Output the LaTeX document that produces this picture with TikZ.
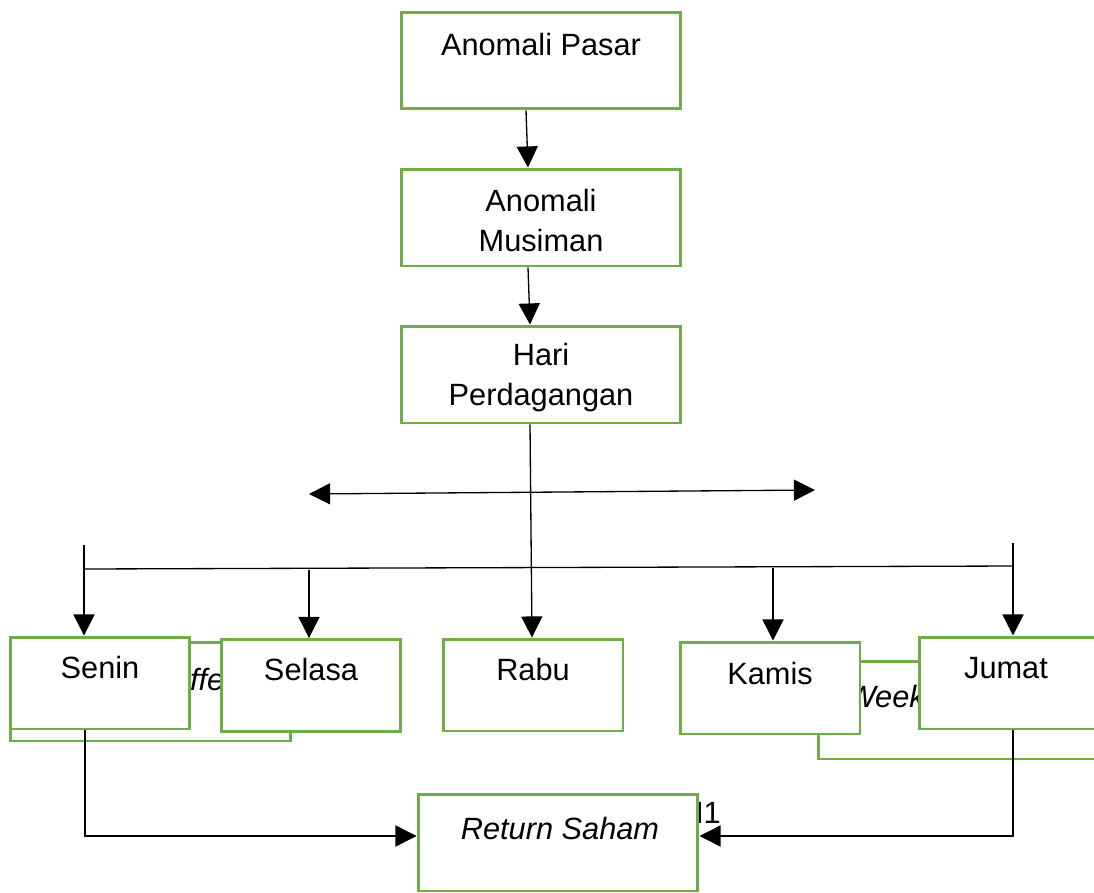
\documentclass[tikz,border=0pt]{standalone}
\usepackage{fontspec}
\setmainfont{Liberation Sans}
\usetikzlibrary{arrows.meta,calc}
\definecolor{boxgreen}{HTML}{70AD47}
\tikzset{
  gbox/.style={draw=boxgreen, line width=1.7pt, fill=white, inner sep=0pt},
  bigbox/.style={gbox, minimum width=5.6cm, minimum height=1.94cm},
  daybox/.style={gbox, minimum width=3.6cm, minimum height=1.84cm},
  lbl/.style={font=\fontsize{17.5}{23.2}\selectfont, align=center, inner sep=0pt},
  conn/.style={line width=0.75pt, black},
  arr/.style={conn, -{Triangle[length=12pt,width=12pt]}},
}
\begin{document}
\begin{tikzpicture}[x=0.02cm,y=-0.02cm]
\useasboundingbox (0,0) rectangle (1094,892);
% top chain
\node[bigbox] (pasar) at (541,60.5) {};
\node[lbl] (tpasar) at (541,45) {Anomali Pasar};
\node[bigbox] (musiman) at (541,217.5) {};
\node[lbl] (tmusiman) at (541,220.5) {Anomali\\Musiman};
\node[bigbox] (hari) at (541,374.5) {};
\node[lbl] (thari) at (541,377.5) {Hari\\Perdagangan};
\draw[arr] ($(pasar.south)+(-15,0)$) -- ($(musiman.north)+(-13,0)$);
\draw[arr] ($(musiman.south)+(-13,0)$) -- ($(hari.north)+(-11,0)$);
% double arrow
\coordinate (dl) at (309,494);
\coordinate (dr) at (815,490);
\draw[conn, {Triangle[length=12pt,width=12pt]}-{Triangle[length=12pt,width=12pt]}] (dl) -- (dr);
% hidden boxes behind
\node[gbox, minimum width=5.62cm, minimum height=1.98cm] (monday) at (150.5,691.5) {};
\node[lbl, font=\fontsize{17.5}{23.2}\selectfont\itshape] (tmonday) at (150,683) {Monday Effect};
\node[gbox, minimum width=5.6cm, minimum height=1.96cm] (weekend) at (958,710) {};
\node[lbl, font=\fontsize{17.5}{23.2}\selectfont\itshape] (tweekend) at (955,697) {Weekend Effect};
\node[lbl] (h1) at (701,813) {H1};
% day boxes
\node[daybox] (senin) at (100,683) {};
\node[lbl] (tsenin) at (100,668) {Senin};
\node[daybox] (selasa) at (311,685.5) {};
\node[lbl] (tselasa) at (311,670) {Selasa};
\node[daybox] (rabu) at (533,685) {};
\node[lbl] (trabu) at (533,670) {Rabu};
\node[daybox] (kamis) at (770,688) {};
\node[lbl] (tkamis) at (770,673) {Kamis};
\node[daybox] (jumat) at (1009,683) {};
\node[lbl] (tjumat) at (1006,668) {Jumat};
% return saham
\node[bigbox] (ret) at (558,842.5) {};
\node[lbl, font=\fontsize{17.5}{23.2}\selectfont\itshape] (tret) at (560,828) {Return Saham};
% connectors to days
\draw[arr] ($(hari.south)+(-11,0)$) -- ($(rabu.north)+(-1,0)$);
\coordinate (hl) at (85,569);
\coordinate (hr) at (1013,566);
\draw[conn] (hl) -- (hr);
\coordinate (sl) at (84,545);
\coordinate (jl) at (1013,543);
\coordinate (selt) at (309,569.5);
\coordinate (kamt) at (773,567.5);
\draw[arr] (sl) -- ($(senin.north)+(-16,0)$);
\draw[arr] (selt) -- ($(selasa.north)+(-2,0)$);
\draw[arr] (kamt) -- ($(kamis.north)+(3,0)$);
\draw[arr] (jl) -- ($(jumat.north)+(4,0)$);
% to return saham
\draw[arr] ($(senin.south)+(-15,0)$) |- ($(ret.west)+(0,-6.5)$);
\draw[arr] ($(jumat.south)+(4,0)$) |- ($(ret.east)+(0,-6.5)$);
\end{tikzpicture}
\end{document}
